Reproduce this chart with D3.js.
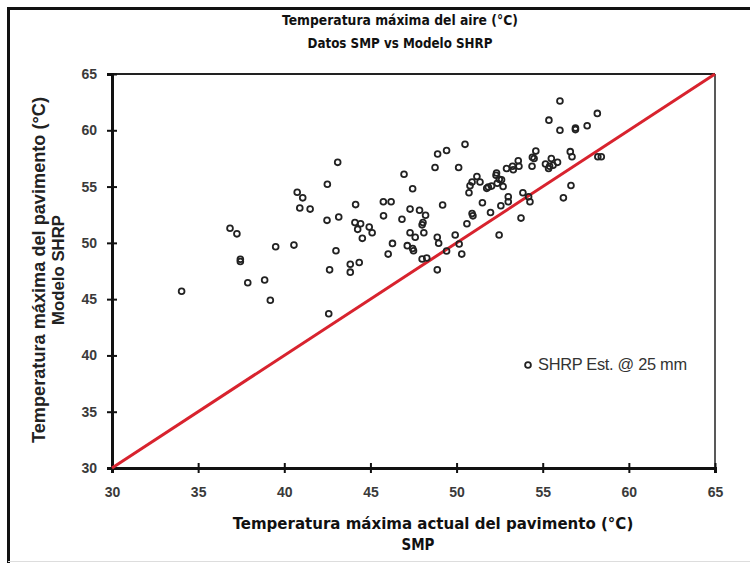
<!DOCTYPE html>
<html><head><meta charset="utf-8">
<script src="https://cdn.jsdelivr.net/npm/d3@7"></script>
<style>body{margin:0;background:#fff}svg{display:block}</style>
</head><body>
<svg id="c" width="750" height="563"></svg>
<script>
const titleLines = ["Temperatura máxima del aire (°C)", "Datos SMP vs Modelo SHRP"];
const xTitleLines = ["Temperatura máxima actual del pavimento (°C)", "SMP"];
const yTitleLines = ["Temperatura máxima del pavimento (°C)", "Modelo SHRP"];
const legendLabel = "SHRP Est. @ 25 mm";
const xTicks = [30, 35, 40, 45, 50, 55, 60, 65];
const yTicks = [30, 35, 40, 45, 50, 55, 60, 65];
const lineOneToOne = [[30, 30], [65, 65]];
// SMP actual (x) and SHRP model (y)
const smpX = [34.04,36.85,37.25,37.45,37.45,37.88,38.86,39.19,39.5,40.56,40.75,41.07,40.9,41.5,42.48,43.16,42.5,43.1,43.0,42.63,42.58,43.83,44.35,43.83,44.14,44.1,44.43,44.26,44.93,45.1,44.53,45.75,46.2,45.76,46.95,47.45,47.3,46.83,47.3,47.6,46.28,46.03,47.14,47.45,47.5,47.85,48.2,48.0,48.05,48.1,48.88,48.96,49.92,50.15,50.3,49.42,48.0,48.27,48.88,49.19,48.9,49.42,48.75,50.12,50.49,50.78,50.9,51.18,51.36,50.72,51.5,50.9,50.95,50.6,52.47,51.97,52.57,53.0,53.0,51.84,52.03,52.29,52.48,52.7,52.36,51.75,52.61,52.32,52.9,53.25,53.58,53.62,53.29,53.85,54.18,54.26,53.74,54.4,54.6,54.38,54.5,55.16,55.4,55.5,55.86,55.34,55.6,56.6,56.7,56.64,56.2,58.2,58.4,56.0,58.17,55.36,56.0,56.9,56.9,57.58];
const shrpY = [45.7,51.3,50.8,48.35,48.55,46.45,46.7,44.9,49.65,49.8,54.5,54.0,53.1,53.0,52.0,52.3,55.2,57.15,49.3,47.6,43.7,48.1,48.25,47.4,53.4,51.8,51.7,51.2,51.4,50.9,50.4,53.65,53.65,52.4,56.1,54.8,53.0,52.1,50.9,50.5,49.95,49.0,49.75,49.5,49.3,52.9,52.45,51.6,51.8,50.9,50.5,49.96,50.7,49.9,49.0,49.27,48.56,48.65,47.6,53.36,57.9,58.2,56.7,56.7,58.75,55.07,55.4,55.9,55.4,54.45,53.56,52.6,52.4,51.7,50.7,52.7,53.3,54.1,53.65,54.96,55.04,56.0,55.64,55.0,55.3,54.84,55.6,56.2,56.6,56.8,57.3,56.8,56.5,54.45,54.1,53.65,52.2,57.6,58.15,56.8,57.5,57.0,56.8,57.5,57.15,56.6,56.9,58.1,57.65,55.1,54.0,57.65,57.65,62.6,61.5,60.9,60.0,60.06,60.2,60.4];
const points = smpX.map((x, i) => ({x, y: shrpY[i]}));

const svg = d3.select("#c");
svg.append("rect").attr("width",750).attr("height",563).attr("fill","#fff");
// outer frame
svg.append("line").attr("x1",8).attr("x2",750).attr("y1",8.5).attr("y2",8.5).attr("stroke","#111").attr("stroke-width",3);
svg.append("line").attr("x1",8.5).attr("x2",8.5).attr("y1",7).attr("y2",563).attr("stroke","#111").attr("stroke-width",3);
svg.append("line").attr("x1",8).attr("x2",750).attr("y1",561.5).attr("y2",561.5).attr("stroke","#ddd").attr("stroke-width",1);

const L = 112, R = 715, T = 74, B = 468;
const x = d3.scaleLinear().domain([30,65]).range([L,R]);
const y = d3.scaleLinear().domain([30,65]).range([B,T]);

svg.append("line").attr("x1",L).attr("x2",R).attr("y1",T).attr("y2",T).attr("stroke","#222").attr("stroke-width",2);
svg.append("line").attr("x1",R).attr("x2",R).attr("y1",T).attr("y2",B).attr("stroke","#222").attr("stroke-width",1.5);

const xAxis = svg.append("g").attr("transform",`translate(0,${B})`)
  .call(d3.axisBottom(x).tickValues(xTicks).tickSize(5).tickPadding(14).tickFormat(d3.format("d")));
const yAxis = svg.append("g").attr("transform",`translate(${L},0)`)
  .call(d3.axisLeft(y).tickValues(yTicks).tickSize(5).tickPadding(10).tickFormat(d3.format("d")));
[xAxis, yAxis].forEach(g => {
  g.select(".domain").attr("stroke","#111").attr("stroke-width",3);
  g.selectAll(".tick line").attr("stroke","#111").attr("stroke-width",2);
  g.selectAll(".tick text").attr("fill","#3a3a3a").style("font-family","'Liberation Sans', Arial, sans-serif")
   .style("font-size","14px").style("font-weight","bold");
});
xAxis.selectAll(".tick line").attr("y1",-5).attr("y2",5);
yAxis.selectAll(".tick line").attr("x1",-5).attr("x2",5);

svg.append("line")
  .attr("x1",x(lineOneToOne[0][0])).attr("y1",y(lineOneToOne[0][1]))
  .attr("x2",x(lineOneToOne[1][0])).attr("y2",y(lineOneToOne[1][1]))
  .attr("stroke","#d8232e").attr("stroke-width",3);

svg.append("g").selectAll("circle").data(points).join("circle")
  .attr("cx",d=>x(d.x)).attr("cy",d=>y(d.y)).attr("r",2.9)
  .attr("fill","none").attr("stroke","#222").attr("stroke-width",1.8);

function fit(sel, w) {
  const n = sel.node(); const fs = parseFloat(sel.style("font-size"));
  const cur = n.getComputedTextLength();
  sel.style("font-size", (fs * w / cur).toFixed(2) + "px");
  return sel;
}

// legend
svg.append("circle").attr("cx",528).attr("cy",365).attr("r",2.9).attr("fill","none").attr("stroke","#222").attr("stroke-width",1.8);
fit(svg.append("text").attr("x",538).attr("y",370).text(legendLabel)
  .style("font-family","'Liberation Sans', Arial, sans-serif").style("font-size","14px").style("letter-spacing","-0.3px").attr("fill","#333"), 148);

const tf = "'DejaVu Sans Condensed', 'DejaVu Sans', sans-serif";
function t(xp, yp, s, w, ff, col) {
  return fit(svg.append("text").attr("x",xp).attr("y",yp).attr("text-anchor","middle").text(s)
    .style("font-family",ff).style("font-weight","bold").style("font-size","14px").attr("fill",col), w);
}
t(400, 25, titleLines[0], 236, tf, "#111");
t(400, 48, titleLines[1], 185, tf, "#111");
t(433, 529, xTitleLines[0], 401, tf, "#111");
t(418, 550, xTitleLines[1], 33, tf, "#111");
const lf = "'Liberation Sans', Arial, sans-serif";
fit(svg.append("text").attr("transform","translate(45,270) rotate(-90)").attr("text-anchor","middle").text(yTitleLines[0])
  .style("font-family",lf).style("font-weight","bold").style("font-size","15px").attr("fill","#222"), 346);
fit(svg.append("text").attr("transform","translate(64,270) rotate(-90)").attr("text-anchor","middle").text(yTitleLines[1])
  .style("font-family",lf).style("font-weight","bold").style("font-size","15px").attr("fill","#222"), 110);
</script>
</body></html>
